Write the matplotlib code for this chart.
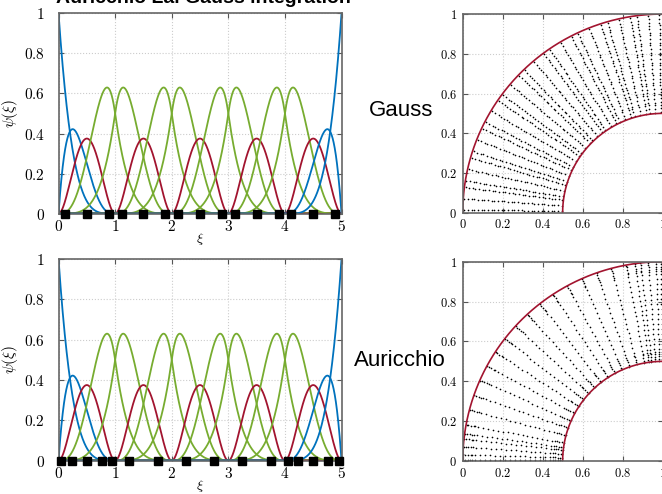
import numpy as np
import matplotlib.pyplot as plt

plt.rcParams['mathtext.fontset'] = 'cm'
plt.rcParams['font.family'] = ['Liberation Sans', 'DejaVu Sans']

# quartic C1 B-spline basis on 5 elements
degree = 4
knots = [0, 0, 0, 0, 0, 1, 1, 1, 2, 2, 2, 3, 3, 3, 4, 4, 4, 5, 5, 5, 5, 5]
blue_funcs = [0, 1, 15, 16]
red_funcs = [2, 5, 8, 11, 14]

# quadrature points
gauss_pts = [0.113, 0.5, 0.887, 1.113, 1.5, 1.887, 2.113, 2.5, 2.887,
             3.113, 3.5, 3.887, 4.113, 4.5, 4.887]
auricchio_pts = [0.047, 0.231, 0.5, 0.769, 0.953, 1.25, 1.75, 2.25, 2.75,
                 3.25, 3.75, 4.047, 4.231, 4.5, 4.769, 4.953]

# 2D mesh on the quarter annulus: 10 x 10 elements
n_el_2d = 10
gauss_local = [0.1127, 0.5, 0.8873]
auric_end_local = [0.0469, 0.2308, 0.5, 0.7692, 0.9531]
auric_mid_local = [0.25, 0.75]
r_in, r_out = 0.5, 1.0

c_blue = '#0072BD'
c_red = '#A2142F'
c_green = '#77AC30'


def basis(i, p, x):
    # Cox-de Boor
    if p == 0:
        lo, hi = knots[i], knots[i + 1]
        if hi == knots[-1] and lo < hi:
            return ((x >= lo) & (x <= hi)).astype(float)
        return ((x >= lo) & (x < hi)).astype(float)
    out = np.zeros_like(x)
    d1 = knots[i + p] - knots[i]
    if d1 > 0:
        out += (x - knots[i]) / d1 * basis(i, p - 1, x)
    d2 = knots[i + p + 1] - knots[i + 1]
    if d2 > 0:
        out += (knots[i + p + 1] - x) / d2 * basis(i + 1, p - 1, x)
    return out


def param_points(local_sets):
    pts = []
    for e, loc in enumerate(local_sets):
        pts += [(e + t) / n_el_2d for t in loc]
    return np.array(pts)


def annulus(u, v):
    # rational quadratic quarter circle, centre (1, 0)
    w = np.sqrt(2) / 2
    D = (1 - u) ** 2 + 2 * w * u * (1 - u) + u ** 2
    cx = (-(1 - u) ** 2 - 2 * w * u * (1 - u)) / D
    cy = (2 * w * u * (1 - u) + u ** 2) / D
    r = r_in + (r_out - r_in) * v
    return 1 + r * cx, r * cy


def style_axes(ax):
    ax.tick_params(direction='in', top=True, right=True, length=3.5,
                   width=0.8, color='#555555', labelsize=10, pad=4)
    for s in ax.spines.values():
        s.set_color('#666666')
        s.set_linewidth(1.2)
    ax.grid(True, linestyle=':', color='#cccccc', linewidth=0.8)
    ax.set_axisbelow(True)


def plot_basis(ax, qpts):
    xi = np.linspace(0, 5, 1501)
    nfun = len(knots) - degree - 1
    for i in range(nfun):
        if i in blue_funcs:
            c = c_blue
        elif i in red_funcs:
            c = c_red
        else:
            c = c_green
        ax.plot(xi, basis(i, degree, xi), color=c, lw=1.3)
    ax.plot(qpts, np.zeros(len(qpts)), 's', color='black', ms=5.2,
            clip_on=False, zorder=5)
    ax.set_xlim(0, 5)
    ax.set_ylim(0, 1)
    ax.set_xticks(range(6), [f'${v}$' for v in range(6)])
    yt = [0, 0.2, 0.4, 0.6, 0.8, 1]
    ax.set_yticks(yt, [f'${v:g}$' for v in yt])
    ax.set_xlabel(r'$\xi$', fontsize=10, labelpad=-2)
    ax.set_ylabel(r'$\psi(\xi)$', fontsize=11)
    style_axes(ax)
    ax.tick_params(axis='x', labelsize=11)
    ax.tick_params(axis='y', labelsize=11, pad=10)
    ax.yaxis.set_label_coords(-0.135, 0.5)


def plot_annulus(ax, upts, vpts):
    U, V = np.meshgrid(upts, vpts)
    X, Y = annulus(U, V)
    ax.plot(X.ravel(), Y.ravel(), 'o', color='black', ms=1.2, mew=0)
    t = np.linspace(0, 1, 300)
    for v in [0, 1]:
        x, y = annulus(t, np.full_like(t, v))
        ax.plot(x, y, color=c_red, lw=1.2)
    ax.set_xlim(0, 1)
    ax.set_ylim(0, 1)
    tk = [0, 0.2, 0.4, 0.6, 0.8, 1]
    ax.set_xticks(tk, [f'${v:g}$' for v in tk])
    ax.set_yticks(tk, [f'${v:g}$' for v in tk])
    style_axes(ax)
    ax.tick_params(labelsize=9)


fig = plt.figure(figsize=(6.62, 4.94), dpi=100)

ax1 = fig.add_axes([0.0884, 0.5674, 0.4275, 0.4057])
ax2 = fig.add_axes([0.0884, 0.0674, 0.4275, 0.4083])
ax3 = fig.add_axes([0.699, 0.5694, 0.3018, 0.4022])
ax4 = fig.add_axes([0.699, 0.0668, 0.3018, 0.4034])

plot_basis(ax1, gauss_pts)
plot_basis(ax2, auricchio_pts)

u_gauss = param_points([gauss_local] * n_el_2d)
u_auric = param_points([auric_end_local] + [auric_mid_local] * (n_el_2d - 2)
                       + [auric_end_local])
plot_annulus(ax3, u_gauss, u_gauss)
plot_annulus(ax4, u_auric, u_auric)

fig.text(0.307, 0.9945, 'Auricchio Lai Gauss integration', ha='center',
         va='baseline', fontsize=14, fontweight='bold')
fig.text(0.606, 0.777, 'Gauss', ha='center', va='center', fontsize=16)
fig.text(0.604, 0.271, 'Auricchio', ha='center', va='center', fontsize=16)

plt.savefig('out.png', dpi=100)
